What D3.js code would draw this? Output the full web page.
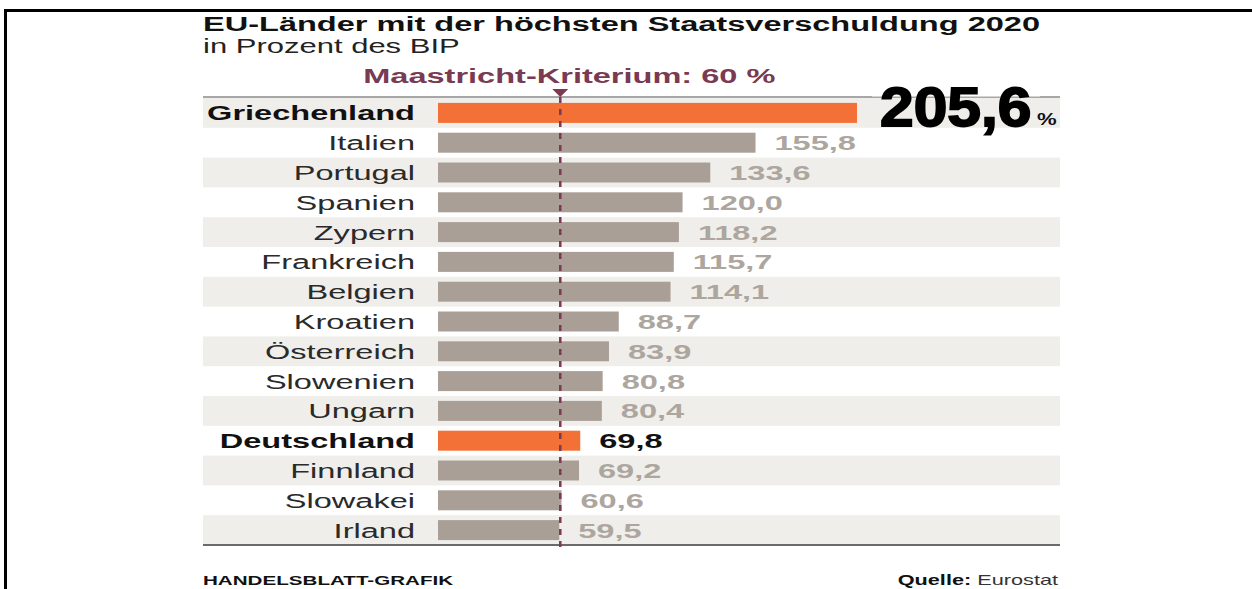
<!DOCTYPE html>
<html>
<head>
<meta charset="utf-8">
<script src="https://cdn.jsdelivr.net/npm/d3@7"></script>
<style>
  html, body { margin: 0; padding: 0; background: #fff; }
  svg { display: block; font-family: "Liberation Sans", Arial, sans-serif; }
</style>
</head>
<body>
<svg id="chart" width="1252" height="589"></svg>
<script>
// Data
const countries = ['Griechenland', 'Italien', 'Portugal', 'Spanien', 'Zypern', 'Frankreich', 'Belgien',
    'Kroatien', 'Österreich', 'Slowenien', 'Ungarn', 'Deutschland', 'Finnland', 'Slowakei', 'Irland'];
const debtValues = [205.6, 155.8, 133.6, 120.0, 118.2, 115.7, 114.1, 88.7, 83.9, 80.8, 80.4, 69.8, 69.2, 60.6, 59.5];
const highlighted = ['Griechenland', 'Deutschland'];
const maastrichtLimit = 60;

const titleText = 'EU-Länder mit der höchsten Staatsverschuldung 2020';
const subtitleText = 'in Prozent des BIP';
const limitText = 'Maastricht-Kriterium: 60 %';

// Layout (the original graphic is stretched horizontally)
const SX = 1.55;
const chartLeft = 203, chartRight = 1060;
const barX0 = 438, chartTop = 98, chartBottom = 545;

const colors = {
    orange: '#f37036',
    bar: '#aa9f96',
    band: '#efeeea',
    maroon: '#7a3a52',
    value: '#ada69f',
    text: '#1e1e1e'
};

const fmt = v => d3.format('.1f')(v).replace('.', ',');

const svg = d3.select('#chart');

// stretched text helper
function label(x, y, str, opts = {}) {
    return svg.append('text')
        .attr('transform', `translate(${x},${y}) scale(${opts.sx || SX},1)`)
        .attr('text-anchor', opts.anchor || 'start')
        .attr('font-size', opts.size || 21)
        .attr('font-weight', opts.weight || 'normal')
        .attr('fill', opts.fill || colors.text)
        .text(str);
}

const data = countries.map((c, i) => ({ country: c, value: debtValues[i] }));

const x = d3.scaleLinear().domain([0, 205.6]).range([barX0, 857]);
const y = d3.scaleBand().domain(countries).range([chartTop, chartBottom]).padding(0);
const barH = 20;

// frame of the picture
svg.append('path')
    .attr('d', 'M5.5,589 V10.5 H1252')
    .attr('fill', 'none')
    .attr('stroke', '#000')
    .attr('stroke-width', 3);

// title
label(chartLeft, 31, titleText, { size: 21, weight: 'bold', fill: '#111' });
label(chartLeft, 53, subtitleText, { size: 20, fill: '#222' });

// row bands
svg.selectAll('rect.band')
    .data(data.filter((d, i) => i % 2 === 0))
    .enter().append('rect')
    .attr('class', 'band')
    .attr('x', chartLeft)
    .attr('width', chartRight - chartLeft)
    .attr('y', d => y(d.country))
    .attr('height', y.bandwidth())
    .attr('fill', colors.band);

// top rule
svg.append('line')
    .attr('x1', chartLeft).attr('x2', chartRight)
    .attr('y1', chartTop - 1).attr('y2', chartTop - 1)
    .attr('stroke', '#8a8a8a').attr('stroke-width', 1.5);

// bottom rule
svg.append('line')
    .attr('x1', chartLeft).attr('x2', chartRight)
    .attr('y1', chartBottom).attr('y2', chartBottom)
    .attr('stroke', '#6a6a6a').attr('stroke-width', 2);

// bars
svg.selectAll('rect.bar')
    .data(data)
    .enter().append('rect')
    .attr('class', 'bar')
    .attr('x', x(0))
    .attr('y', d => y(d.country) + (y.bandwidth() - barH) / 2)
    .attr('width', d => x(d.value) - x(0))
    .attr('height', barH)
    .attr('fill', d => highlighted.includes(d.country) ? colors.orange : colors.bar);

// country labels
data.forEach(d => {
    const bold = highlighted.includes(d.country);
    label(415, y(d.country) + y.bandwidth() / 2 + 7.5, d.country, {
        anchor: 'end', weight: bold ? 'bold' : 'normal', fill: bold ? '#111' : '#2a2a2a'
    });
});

// value labels (Griechenland gets the big number)
data.slice(1).forEach(d => {
    const bold = highlighted.includes(d.country);
    label(x(d.value) + 19, y(d.country) + y.bandwidth() / 2 + 7.5, fmt(d.value), {
        weight: 'bold', fill: bold ? '#111' : colors.value
    });
});

// big number for the leader
const lead = data[0];
svg.append('rect')
    .attr('x', 872).attr('y', 80)
    .attr('width', 168).attr('height', chartTop - 80 - 1.5)
    .attr('fill', '#fff');
svg.append('text')
    .attr('transform', `translate(880,${y(lead.country) + y.bandwidth() / 2 + 13}) scale(1.08,1)`)
    .attr('font-size', 56)
    .attr('font-weight', 'bold')
    .attr('stroke', '#000').attr('stroke-width', 1.8)
    .attr('fill', '#000')
    .text(fmt(lead.value));
label(1037, y(lead.country) + y.bandwidth() / 2 + 12, '%', { size: 17, sx: 1.3, weight: 'bold', fill: '#111' });

// Maastricht marker
const mx = x(maastrichtLimit);
svg.append('line')
    .attr('x1', mx).attr('x2', mx)
    .attr('y1', chartTop - 1).attr('y2', chartBottom + 3)
    .attr('stroke', colors.maroon)
    .attr('stroke-width', 2.5)
    .attr('stroke-dasharray', '6,6');
svg.append('path')
    .attr('d', `M${mx - 8},89 L${mx + 8},89 L${mx},97 Z`)
    .attr('fill', colors.maroon);
label(mx + 9, 83, limitText, { anchor: 'middle', size: 21, weight: 'bold', fill: colors.maroon });

// footer
label(chartLeft, 585, 'HANDELSBLATT-GRAFIK', { size: 13.3, weight: 'bold', fill: '#111' });
const src = svg.append('text')
    .attr('transform', `translate(1058,585) scale(${SX},1)`)
    .attr('text-anchor', 'end')
    .attr('font-size', 14)
    .attr('fill', '#333');
src.append('tspan').attr('font-weight', 'bold').attr('fill', '#111').text('Quelle: ');
src.append('tspan').text('Eurostat');
</script>
</body>
</html>
